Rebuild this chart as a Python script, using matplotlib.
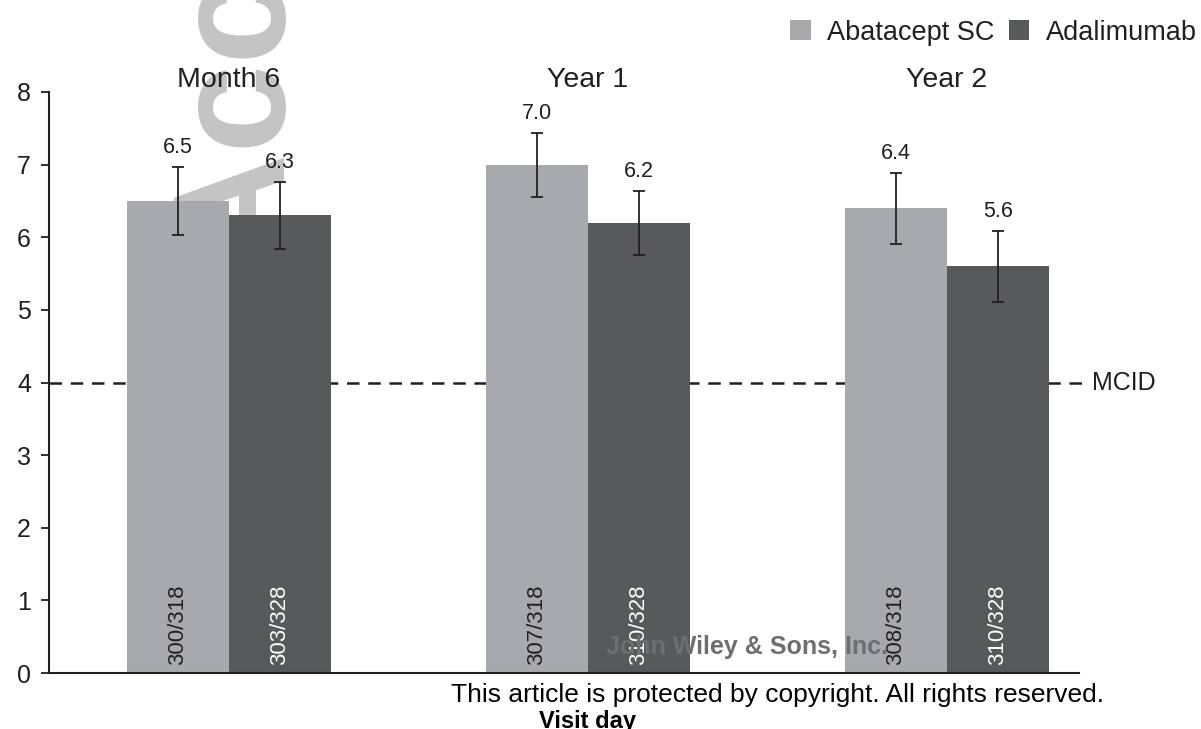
import matplotlib
matplotlib.use("Agg")
import matplotlib.pyplot as plt
import numpy as np

plt.rcParams["font.family"] = ["Liberation Sans", "DejaVu Sans"]

# data
visits = ["Month 6", "Year 1", "Year 2"]
treatments = ["Abatacept SC", "Adalimumab"]
abatacept = [6.5, 7.0, 6.4]
adalimumab = [6.3, 6.2, 5.6]
abatacept_ci = [0.47, 0.44, 0.49]
adalimumab_ci = [0.46, 0.44, 0.49]
abatacept_n = ["300/318", "307/318", "308/318"]
adalimumab_n = ["303/328", "310/328", "310/328"]
mcid = 4

light = "#a8a9ad"
dark = "#58595b"
ink = "#231f20"

fig = plt.figure(figsize=(12.01, 7.29), dpi=100)
ax = fig.add_axes([0.0408, 0.0768, 0.8576, 0.797])
ax.patch.set_visible(False)

x = np.arange(len(visits))
w = 0.285
bars_a = ax.bar(x - w / 2, abatacept, w, color=light, label=treatments[0], zorder=2)
bars_b = ax.bar(x + w / 2, adalimumab, w, color=dark, label=treatments[1], zorder=2)
ax.errorbar(x - w / 2, abatacept, yerr=abatacept_ci, fmt="none", ecolor=ink,
            elinewidth=1.3, capsize=4, capthick=1.3, zorder=3)
ax.errorbar(x + w / 2, adalimumab, yerr=adalimumab_ci, fmt="none", ecolor=ink,
            elinewidth=1.3, capsize=4, capthick=1.3, zorder=3)

# value labels above error bars
for xs, vals, cis in [(x - w / 2, abatacept, abatacept_ci), (x + w / 2, adalimumab, adalimumab_ci)]:
    for xi, v, c in zip(xs, vals, cis):
        ax.text(xi, v + c + 0.12, f"{v:.1f}", ha="center", va="bottom",
                fontsize=15.5, color=ink, zorder=4)

# patient counts inside bars
for xi, n in zip(x - w / 2, abatacept_n):
    ax.text(xi, 0.11, n, rotation=90, ha="center", va="bottom", fontsize=16, color=ink, zorder=4)
for xi, n in zip(x + w / 2, adalimumab_n):
    ax.text(xi, 0.11, n, rotation=90, ha="center", va="bottom", fontsize=16, color="white", zorder=4)

# visit titles above the groups
for xi, v in zip(x, visits):
    ax.text(xi, 8.16, v, ha="center", va="center", fontsize=20.5, color=ink, clip_on=False)

# MCID reference line
ax.axhline(mcid, xmin=0, xmax=1.006, color=ink, lw=1.8, ls=(0, (5, 3.5)), clip_on=False, zorder=1)
ax.text(2.405, mcid, "MCID", ha="left", va="center", fontsize=18, color=ink)

ax.set_xlim(-0.501, 2.368)
ax.set_ylim(0, 8)
ax.set_yticks(range(0, 9))
ax.set_xticks([])
ax.tick_params(axis="y", direction="out", length=6, width=1.3, labelsize=18, colors=ink, pad=7)
for s in ["top", "right"]:
    ax.spines[s].set_visible(False)
for s in ["left", "bottom"]:
    ax.spines[s].set_linewidth(1.5)
    ax.spines[s].set_color(ink)

leg = ax.legend(handles=[bars_a, bars_b], loc="center left", bbox_to_anchor=(0.658, 0.955),
                bbox_transform=fig.transFigure, ncol=2, frameon=False, fontsize=19.5,
                handlelength=0.75, handleheight=0.75, handletextpad=0.6, columnspacing=0.55,
                borderaxespad=0, borderpad=0)
for t in leg.get_texts():
    t.set_color(ink)

# publisher watermark and footer
fig.text(0.237, 0.632, "Accepted Article", rotation=90, rotation_mode="anchor",
         ha="left", va="baseline", fontsize=115, fontweight="bold", color="#c4c4c4", zorder=-1)
fig.text(0.622, 0.112, "John Wiley & Sons, Inc.", ha="center", va="center",
         fontsize=18, fontweight="bold", color="#6d6e71", zorder=5)
fig.text(0.647, 0.047, "This article is protected by copyright. All rights reserved.",
         ha="center", va="center", fontsize=19, color="black")
fig.text(0.489, 0.01, "Visit day", ha="center", va="center", fontsize=17,
         fontweight="bold", color="black")

fig.savefig("out.png", dpi=100)
